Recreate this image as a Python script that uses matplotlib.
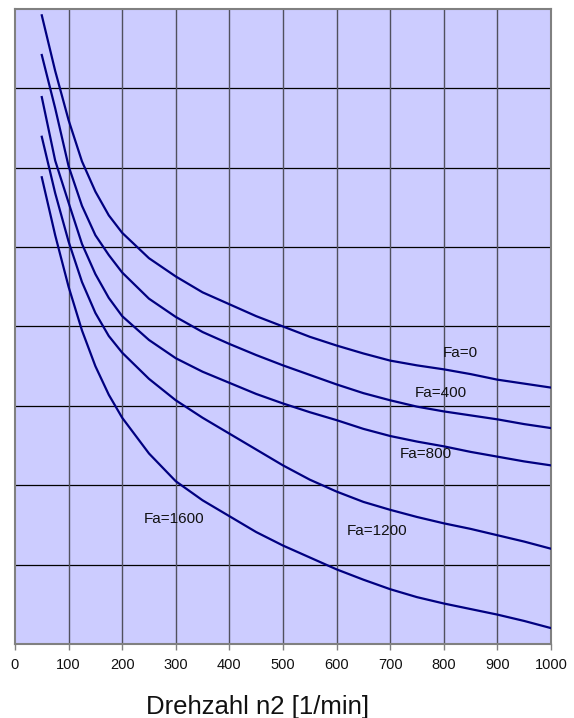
import matplotlib
matplotlib.use("Agg")
import matplotlib.pyplot as plt

# drehzahl n2 [1/min] an den stuetzstellen
drehzahl = [50, 75, 100, 125, 150, 175, 200, 250, 300, 350, 400, 450, 500,
            550, 600, 650, 700, 750, 800, 850, 900, 950, 1000]

# kurvenwerte je axialkraft Fa (einheit = ein rasterfeld)
fa_0 = [7.92, 7.22, 6.60, 6.08, 5.70, 5.40, 5.18, 4.86, 4.63, 4.43, 4.28, 4.13,
        4.00, 3.87, 3.76, 3.66, 3.57, 3.51, 3.46, 3.40, 3.33, 3.28, 3.23]
fa_400 = [7.42, 6.75, 6.02, 5.52, 5.15, 4.90, 4.68, 4.35, 4.12, 3.93, 3.78, 3.64,
          3.51, 3.39, 3.27, 3.16, 3.07, 2.99, 2.93, 2.88, 2.83, 2.77, 2.72]
fa_800 = [6.89, 6.09, 5.56, 5.04, 4.66, 4.36, 4.13, 3.83, 3.60, 3.43, 3.29, 3.15,
          3.03, 2.92, 2.82, 2.71, 2.62, 2.55, 2.49, 2.42, 2.36, 2.30, 2.25]
fa_1200 = [6.39, 5.68, 5.07, 4.56, 4.17, 3.88, 3.67, 3.34, 3.07, 2.85, 2.65, 2.45,
           2.25, 2.07, 1.92, 1.79, 1.69, 1.60, 1.52, 1.45, 1.37, 1.29, 1.20]
fa_1600 = [5.88, 5.15, 4.50, 3.95, 3.50, 3.14, 2.85, 2.40, 2.05, 1.81, 1.61, 1.41,
           1.24, 1.09, 0.94, 0.81, 0.69, 0.59, 0.51, 0.44, 0.37, 0.29, 0.20]

kurven = [fa_0, fa_400, fa_800, fa_1200, fa_1600]
namen = ["Fa=0", "Fa=400", "Fa=800", "Fa=1200", "Fa=1600"]
# wo die beschriftung steht (x in 1/min, y in rasterfeldern)
label_x = [830, 795, 767, 675, 296]
label_y = [3.66, 3.16, 2.39, 1.42, 1.58]

x_ticks = list(range(0, 1001, 100))

plt.rcParams["font.family"] = ["Liberation Sans", "DejaVu Sans"]

fig = plt.figure(figsize=(5.74, 7.18), dpi=100)
ax = fig.add_axes([0.0261, 0.1031, 0.9338, 0.8844])
ax.set_facecolor("#CCCCFF")

for werte in kurven:
    ax.plot(drehzahl, werte, color="#000080", linewidth=1.6, zorder=3)

for name, lx, ly in zip(namen, label_x, label_y):
    ax.text(lx, ly, name, fontsize=11, color="#111111", ha="center", va="center", zorder=4)

ax.set_xlim(0, 1000)
ax.set_ylim(0, 8)
ax.set_xticks(x_ticks)
ax.set_yticks(range(0, 9))
ax.set_yticklabels([])

# raster: waagrecht fast schwarz, senkrecht etwas heller
for y in range(1, 8):
    ax.axhline(y, color="#000000", linewidth=0.9, zorder=1)
for x in x_ticks[1:-1]:
    ax.axvline(x, color="#50505e", linewidth=1.0, zorder=1)

ax.tick_params(axis="y", length=0)
ax.tick_params(axis="x", length=4, width=1, color="#808080", pad=6,
               labelsize=10.5, labelcolor="#111111")

for s in ax.spines.values():
    s.set_color("#808080")
    s.set_linewidth(1.5)

fig.text(258 / 574, 1 - 707 / 718, "Drehzahl n2 [1/min]", fontsize=18.5,
         ha="center", va="center", color="#111111")

fig.savefig("out.png", dpi=100, facecolor="white")
